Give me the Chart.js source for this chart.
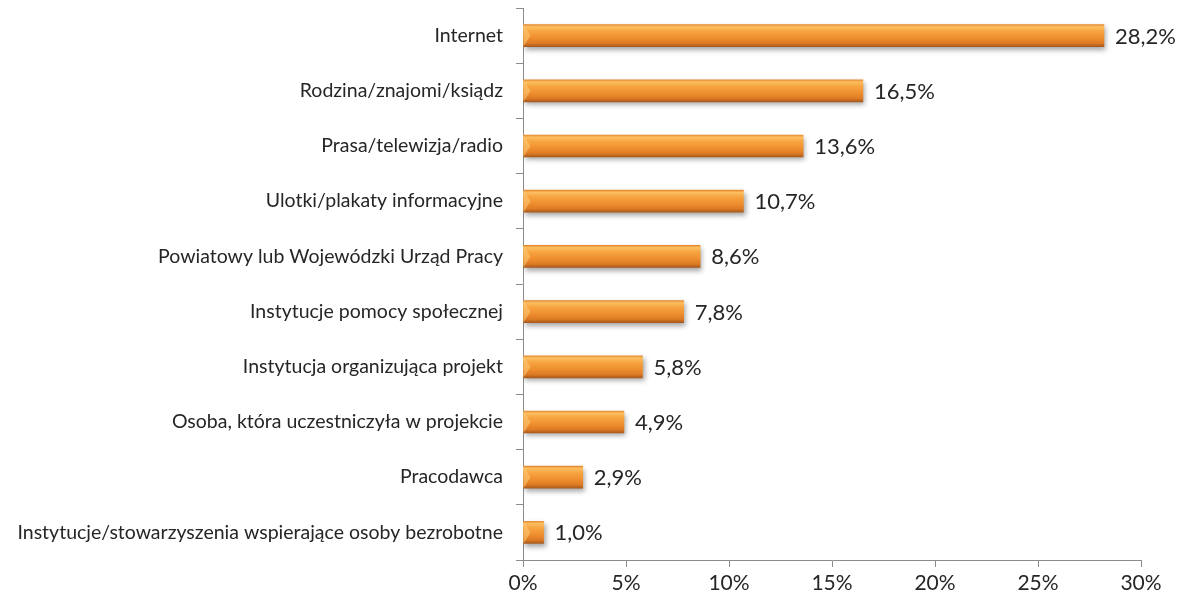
<!DOCTYPE html>
<html lang="pl">
<head>
<meta charset="utf-8">
<title>Źródła informacji o projekcie</title>
<script src="https://cdn.jsdelivr.net/npm/chart.js@4/dist/chart.umd.min.js"></script>
<style>
    html, body { margin: 0; padding: 0; background: #fff; }
    #wrap { width: 1187px; height: 606px; }
</style>
</head>
<body>
<div id="wrap"><canvas id="chart-sources"></canvas></div>
<script>
const categories = [
    'Internet',
    'Rodzina/znajomi/ksiądz',
    'Prasa/telewizja/radio',
    'Ulotki/plakaty informacyjne',
    'Powiatowy lub Wojewódzki Urząd Pracy',
    'Instytucje pomocy społecznej',
    'Instytucja organizująca projekt',
    'Osoba, która uczestniczyła w projekcie',
    'Pracodawca',
    'Instytucje/stowarzyszenia wspierające osoby bezrobotne'
];
const shares = [28.2, 16.5, 13.6, 10.7, 8.6, 7.8, 5.8, 4.9, 2.9, 1.0];
const xTicks = [0, 5, 10, 15, 20, 25, 30];

const FONT = 'Lato, "Open Sans", sans-serif';
const TEXT = '#262626';
const AXIS = '#8c8c8c';
const BAR_H = 22;

const fmtPct = v => v.toFixed(1).replace('.', ',') + '%';

// orange bar with a thin light top edge and darker underside
function barGradient(ctx) {
    const chart = ctx.chart;
    const y = chart.scales.y;
    if (!y || ctx.dataIndex === undefined) return '#ef9636';
    const c = y.getPixelForValue(ctx.dataIndex);
    if (!isFinite(c)) return '#ef9636';
    const g = chart.ctx.createLinearGradient(0, c - BAR_H / 2, 0, c + BAR_H / 2);
    g.addColorStop(0, '#e98a2e');
    g.addColorStop(0.1, '#fbbf62');
    g.addColorStop(0.3, '#f7a440');
    g.addColorStop(0.6, '#ef8f2f');
    g.addColorStop(0.85, '#dc7a24');
    g.addColorStop(1, '#a95a1c');
    return g;
}

const barShadow = {
    id: 'barShadow',
    beforeDatasetDraw(chart) {
        const c = chart.ctx;
        c.save();
        c.shadowColor = 'rgba(0,0,0,0.35)';
        c.shadowBlur = 5;
        c.shadowOffsetX = 2;
        c.shadowOffsetY = 3;
    },
    afterDatasetDraw(chart) {
        const c = chart.ctx;
        c.restore();
        // bevel highlight on the left end of each bar
        c.save();
        c.fillStyle = 'rgba(255, 205, 120, 0.55)';
        chart.getDatasetMeta(0).data.forEach(bar => {
            const h = bar.height / 2;
            const w = Math.min(7, (bar.x - bar.base) / 2);
            c.beginPath();
            c.moveTo(bar.base, bar.y - h);
            c.lineTo(bar.base + w, bar.y);
            c.lineTo(bar.base, bar.y + h);
            c.closePath();
            c.fill();
        });
        c.restore();
    }
};

const valueLabels = {
    id: 'valueLabels',
    afterDatasetsDraw(chart) {
        const c = chart.ctx;
        const meta = chart.getDatasetMeta(0);
        c.save();
        c.font = '22px ' + FONT;
        c.fillStyle = TEXT;
        c.textAlign = 'left';
        c.textBaseline = 'middle';
        meta.data.forEach((bar, i) => {
            c.fillText(fmtPct(shares[i]), bar.x + 11, bar.y + 1);
        });
        c.restore();
    }
};

new Chart(document.getElementById('chart-sources'), {
    type: 'bar',
    data: {
        labels: categories,
        datasets: [{
            data: shares,
            backgroundColor: barGradient,
            borderWidth: 0,
            barThickness: BAR_H
        }]
    },
    options: {
        indexAxis: 'y',
        responsive: true,
        maintainAspectRatio: false,
        animation: false,
        layout: { padding: { top: 8, right: 46, left: 0, bottom: 0 } },
        plugins: {
            legend: { display: false },
            tooltip: { enabled: false }
        },
        scales: {
            x: {
                min: 0,
                max: 30,
                afterFit: s => { s.height = 46; },
                afterBuildTicks: s => { s.ticks = xTicks.map(v => ({ value: v })); },
                border: { color: AXIS, width: 1 },
                grid: { drawOnChartArea: false, drawTicks: true, tickLength: 7, color: AXIS },
                ticks: {
                    color: TEXT,
                    font: { family: FONT, size: 21 },
                    padding: 4,
                    maxRotation: 0,
                    callback: v => v + '%'
                }
            },
            y: {
                afterFit: s => {
                    s.width = 523;
                    s.paddingTop = 0;
                    s.paddingBottom = 0;
                },
                border: { color: AXIS, width: 1 },
                grid: { drawOnChartArea: false, drawTicks: true, tickLength: 7, color: AXIS, offset: true },
                ticks: {
                    color: TEXT,
                    font: { family: FONT, size: 19.5 },
                    padding: 13
                }
            }
        }
    },
    plugins: [barShadow, valueLabels]
});
</script>
</body>
</html>
